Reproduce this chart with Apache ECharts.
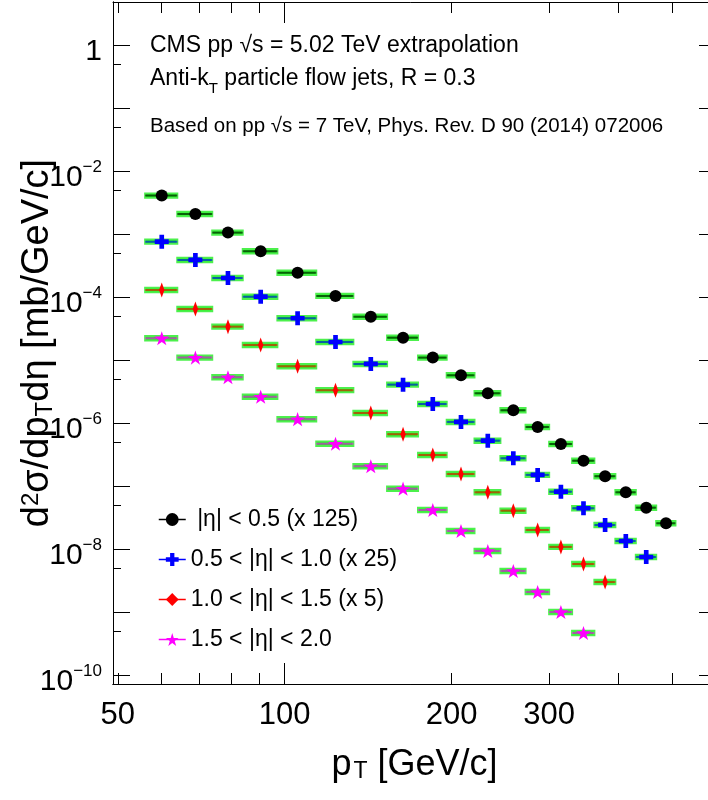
<!DOCTYPE html>
<html><head><meta charset="utf-8">
<script src="https://cdn.jsdelivr.net/npm/echarts@6/dist/echarts.min.js"></script>
<style>html,body{margin:0;padding:0;background:#fff}#c{width:708px;height:800px}</style>
</head><body><div id="c"></div>
<script>
// ---- data ----
const binLow  = [56, 64, 74, 84, 97, 114, 133, 153, 174, 196, 220, 245, 272, 300, 330, 362, 395, 430, 468];
const binHigh = [64, 74, 84, 97, 114, 133, 153, 174, 196, 220, 245, 272, 300, 330, 362, 395, 430, 468, 507];
const ptCenter = [60, 69, 79, 90.5, 105.5, 123.5, 143, 163.5, 185, 208, 232.5, 258.5, 286, 315, 346, 378.5, 412.5, 449, 487.5];

const seriesNames = [' |η| < 0.5 (x 125)', '0.5 < |η| < 1.0 (x 25)', '1.0 < |η| < 1.5 (x 5)', '1.5 < |η| < 2.0'];
const eta00_05 = [4.06e-3, 2.08e-3, 1.05e-3, 5.31e-4, 2.43e-4, 1.04e-4, 4.87e-5, 2.26e-5, 1.09e-5, 5.71e-6, 2.96e-6, 1.59e-6, 8.64e-7, 4.64e-7, 2.52e-7, 1.43e-7, 7.94e-8, 4.53e-8, 2.56e-8];
const eta05_10 = [7.55e-4, 3.87e-4, 2.00e-4, 1.01e-4, 4.59e-5, 1.93e-5, 8.65e-6, 4.06e-6, 2.00e-6, 1.04e-6, 5.24e-7, 2.75e-7, 1.50e-7, 8.12e-8, 4.43e-8, 2.40e-8, 1.34e-8, 7.47e-9];
const eta10_15 = [1.29e-4, 6.45e-5, 3.38e-5, 1.73e-5, 7.94e-6, 3.32e-6, 1.44e-6, 6.64e-7, 3.10e-7, 1.55e-7, 7.94e-8, 4.06e-8, 2.00e-8, 1.08e-8, 5.78e-9, 2.99e-9];
const eta15_20 = [2.21e-5, 1.09e-5, 5.31e-6, 2.61e-6, 1.15e-6, 4.68e-7, 2.06e-7, 9.06e-8, 4.16e-8, 1.93e-8, 9.29e-9, 4.48e-9, 2.08e-9, 1.00e-9, 4.64e-10];
const sysRelErr = [0.085, 0.085, 0.085, 0.085];

const xRange = [49, 600];
const yRange = [7.2e-11, 4.8];
const xLabelValues = [50, 100, 200, 300];
const xShortTicks = [50, 60, 70, 80, 90, 200, 300, 400, 500];
const xLongTicks = [100];
const yLabelValues = [1e-10, 1e-8, 1e-6, 1e-4, 1e-2, 1];
const yLongTicks = [1e-10, 1e-9, 1e-8, 1e-7, 1e-6, 1e-5, 1e-4, 1e-3, 1e-2, 1e-1, 1];
const yShortTicks = [5e-10, 5e-9, 5e-8, 5e-7, 5e-6, 5e-5, 5e-4, 5e-3, 5e-2, 0.5];

// ---- styling ----
const FONT = 'Liberation Sans, Arial, Helvetica, sans-serif';
const colors = ['#000000', '#0000ff', '#ff0000', '#ff00ff'];
const symbols = ['circle',
  'path://M3,0H6V3H9V6H6V9H3V6H0V3H3Z',
  'path://M4.5,0L9,7.5L4.5,15L0,7.5Z',
  'path://M12,0L14.9,8.6L24,8.6L16.6,13.9L19.4,22.6L12,17.3L4.6,22.6L7.4,13.9L0,8.6L9.1,8.6Z'];
const symbolSizes = [12, 14, [9, 15], 15];
const allValues = [eta00_05, eta05_10, eta10_15, eta15_20];

function yFmt(v) {
  const e = Math.round(Math.log10(v));
  return e === 0 ? '{b|1}' : '{b|10}{s|\u2212' + (-e) + '}';
}

function makeX(pos, ticks, len, withLabels) {
  return {
    type: 'log', logBase: 10, min: xRange[0], max: xRange[1], position: pos,
    axisLine: { show: withLabels !== null, onZero: false, lineStyle: { color: '#000', width: 1 } },
    axisTick: { show: true, inside: true, length: len, customValues: ticks, lineStyle: { color: '#000', width: 1 } },
    axisLabel: withLabels ? { show: true, customValues: xLabelValues, fontSize: 31, color: '#000', fontFamily: FONT, margin: 16, formatter: v => String(Math.round(v)) } : { show: false },
    splitLine: { show: false }, minorTick: { show: false }, minorSplitLine: { show: false }
  };
}
function makeY(pos, ticks, len, withLabels) {
  return {
    type: 'log', logBase: 10, min: yRange[0], max: yRange[1], position: pos,
    axisLine: { show: withLabels !== null, onZero: false, lineStyle: { color: '#000', width: 1 } },
    axisTick: { show: true, inside: true, length: len, customValues: ticks, lineStyle: { color: '#000', width: 1 } },
    axisLabel: withLabels ? {
      show: true, customValues: yLabelValues, margin: 11, color: '#000', fontFamily: FONT, formatter: yFmt,
      rich: {
        b: { fontSize: 30, lineHeight: 30, fontFamily: FONT, color: '#000', padding: [7, 0, 0, 0], verticalAlign: 'top' },
        s: { fontSize: 17, lineHeight: 17, fontFamily: FONT, color: '#000', padding: [3, 0, 0, 0], verticalAlign: 'top' }
      }
    } : { show: false },
    splitLine: { show: false }, minorTick: { show: false }, minorSplitLine: { show: false }
  };
}

const xAxes = [makeX('bottom', xShortTicks, 11, true), makeX('bottom', xLongTicks, 21, false),
               makeX('top', xShortTicks, 11, false), makeX('top', xLongTicks, 21, null)];
xAxes[0].name = '{n|p}{sub|T}{n| [GeV/c]}';
xAxes[0].nameLocation = 'middle';
xAxes[0].nameGap = 63;
xAxes[0].nameTextStyle = {
  fontSize: 36, color: '#000', fontFamily: FONT,
  rich: {
    n: { fontSize: 36, lineHeight: 36, fontFamily: FONT, color: '#000', verticalAlign: 'top' },
    sub: { fontSize: 23, lineHeight: 23, fontFamily: FONT, color: '#000', padding: [22, 0, 0, 2], verticalAlign: 'bottom' }
  }
};

const yAxes = [makeY('left', yLongTicks, 17, true), makeY('left', yShortTicks, 8, false),
               makeY('right', yLongTicks, 17, false), makeY('right', yShortTicks, 8, null)];
yAxes[0].name = '{n|d}{sup|2}{n|σ/dp}{sub|T}{n|dη [mb/GeV/c]}';
yAxes[0].nameLocation = 'middle';
yAxes[0].nameRotate = 90;
yAxes[0].nameGap = 56;
yAxes[0].nameMoveOverlap = false;
yAxes[0].nameTextStyle = {
  fontSize: 38, color: '#000', fontFamily: FONT,
  rich: {
    n: { fontSize: 38, lineHeight: 38, fontFamily: FONT, color: '#000', verticalAlign: 'middle' },
    sup: { fontSize: 24, lineHeight: 24, fontFamily: FONT, color: '#000', verticalAlign: 'top' },
    sub: { fontSize: 24, lineHeight: 24, fontFamily: FONT, color: '#000', padding: [22, 0, 0, 0], verticalAlign: 'bottom' }
  }
};

function boxRenderer(color, rel) {
  return function (params, api) {
    const lo = api.value(0), hi = api.value(1), y = api.value(2);
    const a = api.coord([lo, y * (1 + rel)]);
    const b = api.coord([hi, y / (1 + rel)]);
    const c1 = api.coord([lo, y]);
    const c2 = api.coord([hi, y]);
    return {
      type: 'group',
      children: [
        { type: 'rect', shape: { x: a[0], y: a[1], width: b[0] - a[0], height: b[1] - a[1] },
          style: { fill: '#14f014', stroke: '#4cf04c', lineWidth: 2 } },
        { type: 'line', shape: { x1: c1[0], y1: c1[1], x2: c2[0], y2: c2[1] },
          style: { stroke: color, lineWidth: 2, opacity: 0.6 } }
      ]
    };
  };
}

const series = [];
allValues.forEach((vals, i) => {
  series.push({
    type: 'custom', name: seriesNames[i] + ' syst', xAxisIndex: 0, yAxisIndex: 0, z: 2, silent: true,
    renderItem: boxRenderer(colors[i], sysRelErr[i]),
    encode: { x: [0, 1], y: 2 },
    data: vals.map((v, k) => [binLow[k], binHigh[k], v])
  });
});
allValues.forEach((vals, i) => {
  series.push({
    type: 'line', name: seriesNames[i], xAxisIndex: 0, yAxisIndex: 0, z: 3,
    symbol: symbols[i], symbolSize: symbolSizes[i], symbolKeepAspect: true,
    showSymbol: true, showAllSymbol: true,
    itemStyle: { color: colors[i], opacity: 1 },
    lineStyle: { width: 0, opacity: 0, color: colors[i] },
    data: vals.map((v, k) => [ptCenter[k], v])
  });
});

const chart = echarts.init(document.getElementById('c'), null, { renderer: 'canvas' });
chart.setOption({
  animation: false,
  backgroundColor: '#ffffff',
  textStyle: { fontFamily: FONT },
  grid: { left: 113, top: 2, width: 603, height: 682, containLabel: false, outerBoundsMode: 'none' },
  xAxis: xAxes,
  yAxis: yAxes,
  title: [
    { text: 'CMS pp √s = 5.02 TeV extrapolation', left: 150, top: 34, padding: 0,
      textStyle: { fontSize: 23, fontWeight: 'normal', color: '#000', fontFamily: FONT } },
    { text: '{n|Anti-k}{sub|T}{n| particle flow jets, R = 0.3}', left: 150, top: 67, padding: 0,
      textStyle: { fontSize: 23, fontWeight: 'normal', color: '#000', fontFamily: FONT,
        rich: { n: { fontSize: 23, lineHeight: 23, fontFamily: FONT, color: '#000', verticalAlign: 'top' },
                sub: { fontSize: 15, lineHeight: 15, fontFamily: FONT, color: '#000', padding: [14, 0, 0, 0], verticalAlign: 'top' } } } },
    { text: 'Based on pp √s = 7 TeV, Phys. Rev. D 90 (2014) 072006', left: 150, top: 116, padding: 0,
      textStyle: { fontSize: 20.5, fontWeight: 'normal', color: '#000', fontFamily: FONT } }
  ],
  legend: {
    data: seriesNames, orient: 'vertical', left: 158, top: 508, padding: 0,
    itemWidth: 27, itemHeight: 16, itemGap: 17, selectedMode: false,
    textStyle: { fontSize: 23, color: '#000', fontFamily: FONT },
    lineStyle: { width: 1.5, opacity: 1 }
  },
  series: series
});
</script></body></html>
